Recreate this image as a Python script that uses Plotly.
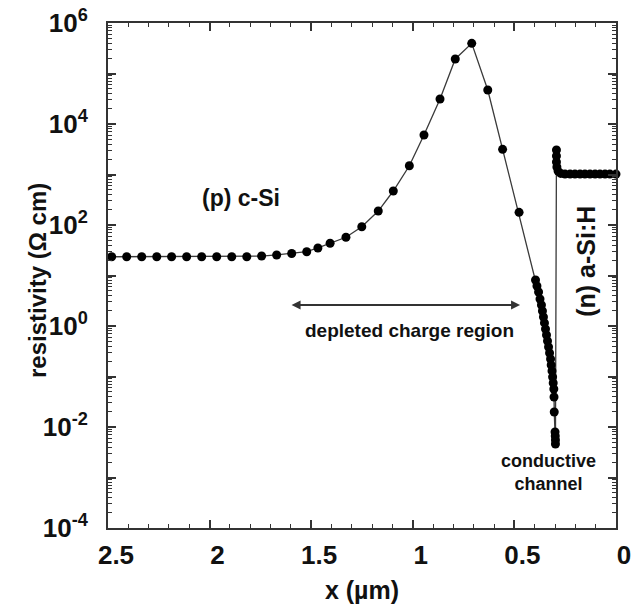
import plotly.graph_objects as go

# ---- data ----
# c-Si side (x in µm, resistivity in Ω cm)
x_csi = [2.482, 2.408, 2.334, 2.260, 2.187, 2.113, 2.039, 1.965, 1.891, 1.817,
         1.744, 1.670, 1.596, 1.522, 1.467, 1.407, 1.329, 1.251, 1.170, 1.096,
         1.017, 0.945, 0.866, 0.791, 0.710, 0.631, 0.558, 0.477]
rho_csi = [23.5, 23.5, 23.5, 23.5, 23.5, 23.5, 23.5, 23.5, 23.5, 23.5,
           24.3, 25.5, 27.3, 29.6, 35.1, 43.5, 57.1, 92.5, 189, 471,
           1490, 6050, 31300, 194000, 396000, 47100, 3150, 178]
# dense points near the interface (conductive channel)
x_chan = [0.396, 0.389, 0.381, 0.374, 0.367, 0.362, 0.357, 0.352, 0.347, 0.342,
          0.337, 0.332, 0.327, 0.322, 0.319, 0.315, 0.312, 0.309, 0.306, 0.305,
          0.304, 0.300, 0.299, 0.298, 0.298]
rho_chan = [8.15, 6.19, 4.71, 3.43, 2.61, 1.98, 1.51, 1.15, 0.872, 0.664,
            0.505, 0.384, 0.292, 0.222, 0.169, 0.129, 0.0977, 0.0743, 0.0565, 0.0393,
            0.0198, 0.00796, 0.00664, 0.00553, 0.00461]
# a-Si:H side
x_asi = [0.293, 0.293, 0.293, 0.291, 0.285, 0.272, 0.251, 0.226, 0.202, 0.177,
         0.153, 0.128, 0.103, 0.079, 0.054, 0.030, 0.0]
rho_asi = [3050, 2320, 1770, 1410, 1170, 1050, 1020, 1020, 1020, 1020,
           1020, 1020, 1020, 1020, 1020, 1020, 1020]

x_ticks = [2.5, 2.0, 1.5, 1.0, 0.5, 0.0]
x_ticklabels = ["2.5", "2", "1.5", "1", "0.5", "0"]
y_label_exponents = [-4, -2, 0, 2, 4, 6]
y_odd_exponents = [-3, -1, 1, 3, 5]

x_all = x_csi + x_chan + x_asi
rho_all = rho_csi + rho_chan + rho_asi

FONT = "Liberation Sans, Arial, Helvetica, sans-serif"
AX = "#333333"
TXT = "#111111"

y_tickvals = [10.0 ** e for e in y_label_exponents]
y_ticktext = ["10<sup>%d</sup>" % e for e in y_label_exponents]
y_oddvals = [10.0 ** e for e in y_odd_exponents]
y_minor = [m * 10.0 ** e for e in range(-4, 6) for m in range(2, 10)]
x_minor = [i / 10 for i in range(1, 25) if i % 5 != 0]

fig = go.Figure()
fig.add_trace(go.Scatter(
    x=x_all, y=rho_all, mode="lines+markers",
    line=dict(color="#3a3a3a", width=1.3),
    marker=dict(color="black", size=9),
    cliponaxis=False, showlegend=False,
))
# invisible helper traces so the tick-only overlay axes are drawn
fig.add_trace(go.Scatter(x=[1.0], y=[1.0], xaxis="x2", yaxis="y2", mode="markers",
                         marker=dict(opacity=0), hoverinfo="skip", showlegend=False))
fig.add_trace(go.Scatter(x=[1.0], y=[1.0], xaxis="x2", yaxis="y3", mode="markers",
                         marker=dict(opacity=0), hoverinfo="skip", showlegend=False))

fig.update_layout(
    width=631, height=611,
    margin=dict(l=108, r=15, t=23, b=83),
    paper_bgcolor="white", plot_bgcolor="white",
    font=dict(family=FONT, color=TXT),
    showlegend=False,
)

tick_common = dict(ticks="inside", tickcolor=AX, showgrid=False, zeroline=False, automargin=False)

fig.update_layout(
    xaxis=dict(
        range=[2.5, 0.0], showline=True, linecolor=AX, linewidth=2, mirror="ticks",
        ticklen=8, tickwidth=1.5, tickvals=x_ticks, ticktext=x_ticklabels,
        tickfont=dict(size=26, weight="bold", family=FONT, color=TXT),
        ticklabelshift=-8, ticklabelstandoff=3, ticklabeloverflow="allow",
        title=dict(text="x (µm)", font=dict(size=25, weight="bold", family=FONT, color=TXT), standoff=12),
        **tick_common,
    ),
    xaxis2=dict(
        range=[2.5, 0.0], overlaying="x", anchor="y", side="bottom",
        showline=False, mirror="ticks", ticklen=4, tickwidth=1.2,
        tickvals=x_minor, showticklabels=False, **tick_common,
    ),
    yaxis=dict(
        type="log", range=[-4, 6], showline=True, linecolor=AX, linewidth=2, mirror="ticks",
        ticklen=8, tickwidth=1.5, tickvals=y_tickvals, ticktext=y_ticktext,
        tickfont=dict(size=26, weight="bold", family=FONT, color=TXT),
        ticklabelstandoff=13, ticklabeloverflow="allow",
        **tick_common,
    ),
    yaxis2=dict(
        type="log", range=[-4, 6], overlaying="y", anchor="x", side="left",
        showline=False, mirror="ticks", ticklen=8, tickwidth=1.5,
        tickvals=y_oddvals, showticklabels=False, **tick_common,
    ),
    yaxis3=dict(
        type="log", range=[-4, 6], overlaying="y", anchor="x", side="left",
        showline=False, mirror="ticks", ticklen=4, tickwidth=1.0,
        tickvals=y_minor, showticklabels=False, **tick_common,
    ),
)

TF = dict(family=FONT, weight="bold", color=TXT)
# y-axis title
fig.add_annotation(x=-0.1398, y=0.491, xref="paper", yref="paper", text="resistivity (Ω cm)",
                   textangle=-90, showarrow=False, xanchor="center", yanchor="middle",
                   font=dict(size=24, **TF))
fig.add_annotation(x=1.845, y=2.53, xref="x", yref="y", text="(p) c-Si",
                   showarrow=False, font=dict(size=23, **TF))
fig.add_annotation(x=1.014, y=-0.08, xref="x", yref="y", text="depleted charge region",
                   showarrow=False, font=dict(size=19, **TF))
fig.add_annotation(x=0.472, y=0.416, ax=1.604, ay=0.416, xref="x", yref="y", axref="x", ayref="y",
                   text="", showarrow=True, arrowhead=2, arrowside="end+start",
                   arrowsize=1, arrowwidth=1.8, arrowcolor=AX)
fig.add_annotation(x=0.33, y=-2.91, xref="x", yref="y", text="conductive<br>channel",
                   showarrow=False, font=dict(size=18, **TF))
fig.add_annotation(x=0.148, y=1.29, xref="x", yref="y", text="(n) a-Si:H", textangle=-90,
                   showarrow=False, font=dict(size=25, **TF))

# remove the browser's default 8 px page margin so the figure fills the window exactly
fig.write_html("out.html", config={"displayModeBar": False},
               post_script="document.body.style.margin='0';")
